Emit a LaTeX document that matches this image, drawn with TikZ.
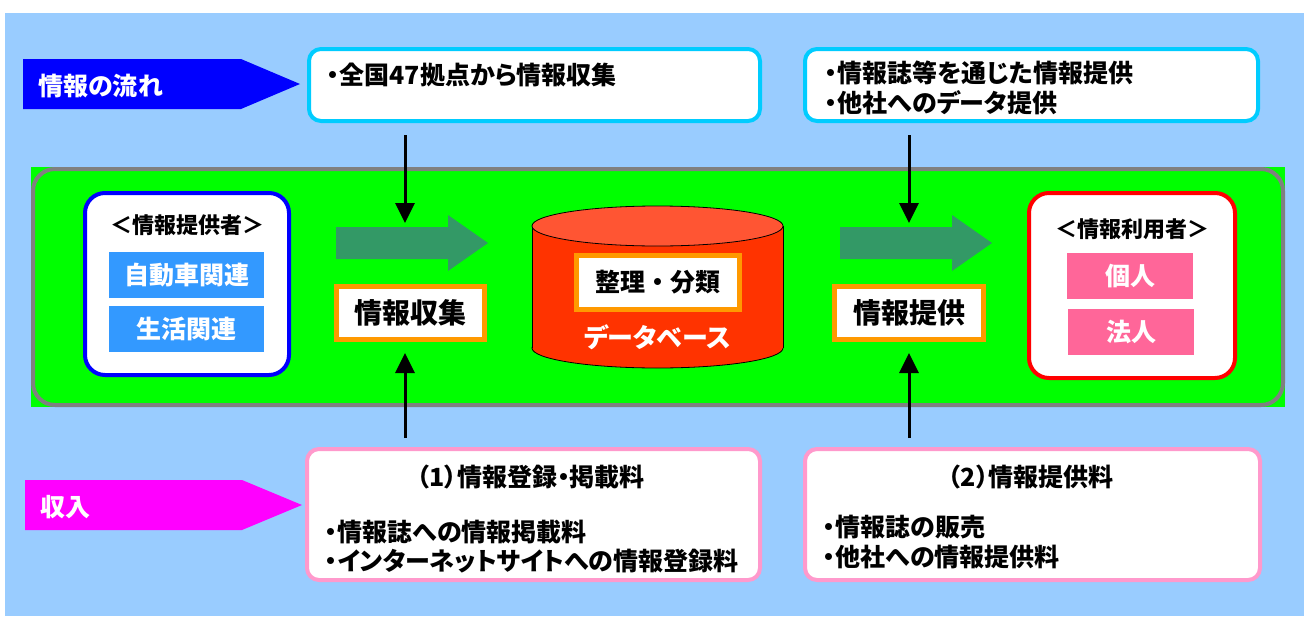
\documentclass[tikz,border=0pt]{standalone}
\usepackage{fontspec}
\setmainfont{Noto Sans CJK JP}[RawFeature=+palt]
\newfontfamily\fullw{Noto Sans CJK JP}
\usepackage{xcolor}
\usetikzlibrary{arrows.meta}

\definecolor{skyblue}{HTML}{99CCFF}
\definecolor{grass}{HTML}{00FF00}
\definecolor{tagblue}{HTML}{0000FF}
\definecolor{tagmagenta}{HTML}{FF00FF}
\definecolor{boxcyan}{HTML}{00CCFF}
\definecolor{boxpink}{HTML}{FF99CC}
\definecolor{boxorange}{HTML}{FF9900}
\definecolor{bigarrow}{HTML}{339966}
\definecolor{dbred}{HTML}{FF3300}
\definecolor{dbtop}{HTML}{FF5533}
\definecolor{chipblue}{HTML}{3399FF}
\definecolor{chippink}{HTML}{FF6699}

\begin{document}
\begin{tikzpicture}[x=1pt, y=-1pt,
  every node/.style={inner sep=0pt, font=\bfseries},
  txt/.style={font=\fontsize{25}{29.5}\selectfont\bfseries, align=left},
  topbox/.style={rectangle, draw=boxcyan, line width=4pt, rounded corners=12pt, fill=white},
  feebox/.style={rectangle, draw=boxpink, line width=4pt, rounded corners=12pt, fill=white},
  partybox/.style={rectangle, line width=4pt, rounded corners=20pt, fill=white},
  partytitle/.style={font=\fontsize{22}{22}\selectfont\bfseries},
  stepbox/.style={rectangle, draw=boxorange, line width=5pt, fill=white,
    font=\fontsize{28}{28}\selectfont\bfseries},
  tagtext/.style={text=white, anchor=west, font=\fontsize{25}{25}\selectfont\bfseries},
  chip/.style={rectangle, minimum width=155pt, minimum height=46pt, text=white,
    font=\fontsize{25}{25}\selectfont\bfseries},
  vline/.style={line width=3pt, -{Triangle[width=19pt,length=20pt]}}
]
% sfondo
\fill[white] (0,0) rectangle (1304,616);
\fill[skyblue] (5,13) rectangle (1304,616);
\useasboundingbox (0,0) rectangle (1304,616);

% etichette a freccia
\fill[tagblue] (23,59) -- (241,59) -- (300,84) -- (241,109) -- (23,109) -- cycle;
\node[tagtext] (flowtag) at (38,86) {情報の流れ};
\fill[tagmagenta] (25,480) -- (242,480) -- (302,505) -- (242,530) -- (25,530) -- cycle;
\node[tagtext] (incometag) at (40,507) {収入};

% riquadri in alto
\node[topbox, minimum width=451pt, minimum height=72pt] (gather) at (534.5,85) {};
\node[txt, anchor=west] (gathertxt) at (327,75) {・全国47拠点から情報収集};
\node[topbox, minimum width=453pt, minimum height=72pt] (offer) at (1031.5,85) {};
\node[txt, anchor=west] (offertxt) at (825,88) {・情報誌等を通じた情報提供\\・他社へのデータ提供};

% area verde
\fill[grass] (31,167) rectangle (1285,407);
\node[rectangle, draw=gray, line width=4pt, rounded corners=22pt, fill=grass,
  minimum width=1250pt, minimum height=236pt] (frame) at (658,287) {};

\node[partybox, draw=tagblue, minimum width=204pt, minimum height=182pt] (provider) at (187,284) {};
\node[partytitle] (provtitle) at (187,225) {＜情報提供者＞};
\node[chip, fill=chipblue] (auto) at (186.5,275) {自動車関連};
\node[chip, fill=chipblue] (life) at (186.5,329) {生活関連};

\node[partybox, draw=red, minimum width=206pt, minimum height=185pt] (user) at (1132,285.5) {};
\node[partytitle] (usertitle) at (1132,229) {＜情報利用者＞};
\node[chip, fill=chippink, minimum width=126pt] (person) at (1130,276) {個人};
\node[chip, fill=chippink, minimum width=126pt] (corp) at (1131,332) {法人};

\foreach \x in {336,840}
  \fill[bigarrow] (\x,227) -- ++(112,0) -- ++(0,-12) -- ++(40,28) -- ++(-40,28)
    -- ++(0,-12) -- ++(-112,0) -- cycle;

\node[stepbox, minimum width=148pt, minimum height=53pt] (collect) at (410.5,313) {情報収集};
\node[stepbox, minimum width=149pt, minimum height=53pt] (supply) at (909,313) {情報提供};

% database
\draw[fill=dbred, line width=0.8pt] (657.5,348) ellipse [x radius=125.5pt, y radius=20pt];
\fill[dbred] (532,226) rectangle (783,348);
\draw[line width=0.8pt] (532,226) -- (532,348) (783,226) -- (783,348);
\draw[fill=dbtop, line width=0.8pt] (657.5,226) ellipse [x radius=125.5pt, y radius=20pt];
\node[stepbox, minimum width=163pt, minimum height=54pt,
  font=\fullw\fontsize{25}{25}\selectfont\bfseries] (sort) at (658,282.5) {整理・分類};
\node[text=white, font=\fontsize{26}{26}\selectfont\bfseries] (dblabel) at (657.5,337) {データベース};

% riquadri in basso
\node[feebox, minimum width=453pt, minimum height=131pt] (feeleft) at (533.5,514.5) {};
\node[txt] (feelefttitle) at (531,477) {（1）情報登録・掲載料};
\node[txt, anchor=west] (feeleftlist) at (325,546.5) {・情報誌への情報掲載料\\・インターネットサイトへの情報登録料};
\node[feebox, minimum width=455pt, minimum height=131pt] (feeright) at (1032.5,514.5) {};
\node[txt] (feerighttitle) at (1031,477) {（2）情報提供料};
\node[txt, anchor=west] (feerightlist) at (823,542) {・情報誌の販売\\・他社への情報提供料};

% frecce verticali
\coordinate (collectin) at (405,223);
\coordinate (collectfee) at (405,353);
\coordinate (supplyin) at (909,223);
\coordinate (supplyfee) at (909,353);
\draw[vline] ([yshift=-12pt]gather.south -| collectin) -- (collectin);
\draw[vline] ([yshift=9pt]feeleft.north -| collectfee) -- (collectfee);
\draw[vline] ([yshift=-12pt]offer.south -| supplyin) -- (supplyin);
\draw[vline] ([yshift=9pt]feeright.north -| supplyfee) -- (supplyfee);
\end{tikzpicture}
\end{document}
